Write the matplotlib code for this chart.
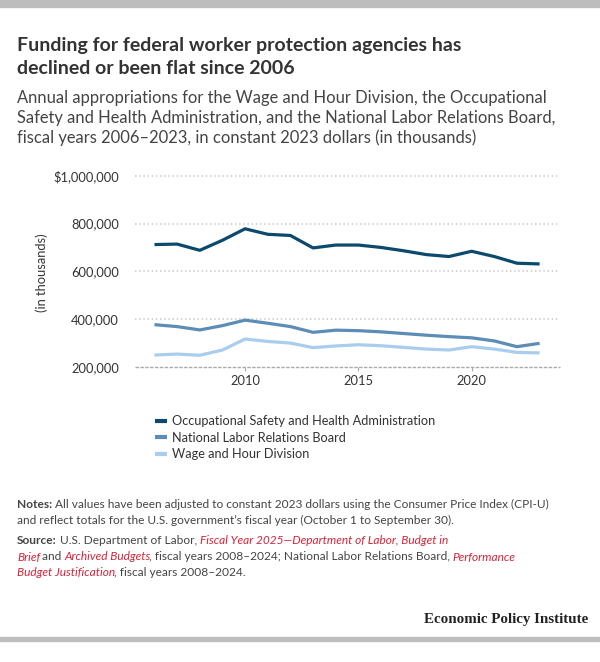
import numpy as np
import matplotlib.pyplot as plt
from matplotlib.patches import Rectangle

plt.rcParams["font.family"] = ["Lato", "DejaVu Sans"]

# datos (miles de dólares constantes 2023)
years = list(range(2006, 2024))
osha = [712, 714, 688, 730, 778, 755, 750, 698, 710, 710, 700, 686, 670, 662, 684, 662, 634, 631]
nlrb = [377, 369, 355, 373, 396, 383, 369, 345, 354, 352, 347, 340, 333, 327, 322, 309, 285, 299]
whd = [250, 254, 249, 271, 317, 307, 300, 281, 288, 293, 289, 282, 275, 271, 285, 275, 261, 259]
series_names = ["Occupational Safety and Health Administration",
                "National Labor Relations Board",
                "Wage and Hour Division"]
colors = ["#0b4a6c", "#5b8db6", "#a9cdee"]
yticks = [200000, 400000, 600000, 800000, 1000000]
ytick_labels = ["200,000", "400,000", "600,000", "800,000", "$1,000,000"]
xticks = [2010, 2015, 2020]

W, H = 600, 662
fig = plt.figure(figsize=(W / 100, H / 100), dpi=100)

def fx(px):
    return px / W

def fy(py):
    return 1 - py / H

# bandas grises
fig.patches.append(Rectangle((0, fy(7)), 1, 7 / H, transform=fig.transFigure, color="#bdbdbd", zorder=0))
fig.patches.append(Rectangle((0, fy(641)), 1, 4 / H, transform=fig.transFigure, color="#bdbdbd", zorder=0))

# titulo y subtitulo
fig.text(fx(17), fy(45), "Funding for federal worker protection agencies has", fontsize=14, fontweight="bold",
         color="#333333", va="center")
fig.text(fx(17), fy(68), "declined or been flat since 2006", fontsize=14, fontweight="bold",
         color="#333333", va="center")
sub = ["Annual appropriations for the Wage and Hour Division, the Occupational",
       "Safety and Health Administration, and the National Labor Relations Board,",
       "fiscal years 2006\u20132023, in constant 2023 dollars (in thousands)"]
for i, s in enumerate(sub):
    fig.text(fx(17), fy(98 + 20 * i), s, fontsize=11.9, color="#444444", va="center")

# grafico
ax = fig.add_axes([fx(135), fy(367), fx(560) - fx(135), fy(175.7) - fy(367)])
for vals, c, name in zip([osha, nlrb, whd], colors, series_names):
    ax.plot(years, np.array(vals) * 1000, color=c, linewidth=2.3, label=name, solid_capstyle="butt", zorder=3)

ax.set_xlim(2005.14, 2023.9)
ax.set_ylim(200000, 1000000)
ax.set_yticks(yticks)
ax.set_yticklabels(ytick_labels)
ax.set_xticks(xticks)
for v in yticks[1:]:
    ax.axhline(v, color="#d4d4d4", linewidth=1.5, linestyle=(0, (0.7, 1.3)), zorder=1, clip_on=False)
ax.axhline(200000, color="#aaaaaa", linewidth=1.0, linestyle=(0, (2.5, 1)), zorder=2, clip_on=False)
for s in ax.spines.values():
    s.set_visible(False)
ax.tick_params(axis="y", length=0, pad=11.5, labelsize=9.3, labelcolor="#333333")
ax.tick_params(axis="x", length=3, color="#aaaaaa", pad=3, labelsize=9.3, labelcolor="#333333")
fig.text(fx(42), fy(273), "(in thousands)", fontsize=9.3, color="#333333", rotation=90,
         ha="center", va="center")

leg = fig.legend(loc="upper left", bbox_to_anchor=(fx(155), fy(415)), frameon=False, fontsize=9.2,
                 handlelength=0.9, handletextpad=0.45, labelspacing=0.36, borderaxespad=0, borderpad=0)
for t in leg.get_texts():
    t.set_color("#333333")
for l in leg.get_lines():
    l.set_linewidth(3)

# notas y fuente
fig.canvas.draw()
renderer = fig.canvas.get_renderer()
red = "#d3253a"
txt = "#444444"

def run_line(py, runs, size=8.6):
    x = fx(17)
    for s, style in runs:
        kw = dict(fontsize=size, va="center", color=txt)
        if style == "b":
            kw["fontweight"] = "bold"
        elif style == "r":
            kw["color"] = red
            kw["fontstyle"] = "italic"
        t = fig.text(x, fy(py), s, **kw)
        bb = t.get_window_extent(renderer)
        w = bb.width
        if style == "r":
            w -= 1.5
        x += w / W

run_line(504, [("Notes:", "b"), (" All values have been adjusted to constant 2023 dollars using the Consumer Price Index (CPI-U)", "n")])
run_line(520, [("and reflect totals for the U.S. government\u2019s fiscal year (October 1 to September 30).", "n")])
run_line(541, [("Source:", "b"), (" U.S. Department of Labor, ", "n"),
               ("Fiscal Year 2025\u2014Department of Labor, Budget in", "r")])
run_line(557, [("Brief", "r"), (" and ", "n"), ("Archived Budgets", "r"),
               (", fiscal years 2008\u20132024; National Labor Relations Board, ", "n"), ("Performance", "r")])
run_line(573, [("Budget Justification", "r"), (", fiscal years 2008\u20132024.", "n")])

fig.text(fx(588), fy(620), "Economic Policy Institute", fontsize=10.8, fontweight="bold",
         family="Liberation Serif", color="#222222", ha="right", va="center")

fig.savefig("out.png", dpi=100)
